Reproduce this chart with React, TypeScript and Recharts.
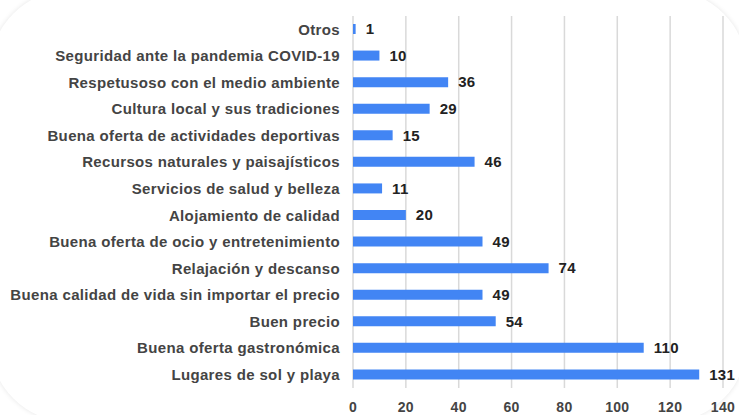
import React from "react";
import { BarChart, Bar, XAxis, YAxis, CartesianGrid, LabelList } from "recharts";

const categories = [
  "Otros",
  "Seguridad ante la pandemia COVID-19",
  "Respetusoso con el medio ambiente",
  "Cultura local y sus tradiciones",
  "Buena oferta de actividades deportivas",
  "Recursos naturales y paisajísticos",
  "Servicios de salud y belleza",
  "Alojamiento de calidad",
  "Buena oferta de ocio y entretenimiento",
  "Relajación y descanso",
  "Buena calidad de vida sin importar el precio",
  "Buen precio",
  "Buena oferta gastronómica",
  "Lugares de sol y playa",
];
const values = [1, 10, 36, 29, 15, 46, 11, 20, 49, 74, 49, 54, 110, 131];
const xTicks = [0, 20, 40, 60, 80, 100, 120, 140];

const data = categories.map((name, i) => ({ name, value: values[i] }));

const FONT = '"Liberation Sans", Arial, sans-serif';

export default function App() {
  return (
    <div style={{ position: "fixed", left: 0, top: 0, width: 739, height: 415, background: "#fff", overflow: "hidden" }}>
      <div
        style={{
          position: "absolute",
          left: -10,
          top: -10,
          width: 757,
          height: 432,
          borderRadius: 80,
          background: "#fff",
          boxShadow: "0 0 5px rgba(0,0,0,0.10)",
        }}
      />
      <div style={{ position: "absolute", left: 0, top: 0 }}>
        <BarChart
          width={739}
          height={415}
          data={data}
          layout="vertical"
          margin={{ top: 16, right: 16, bottom: 0, left: 0 }}
          style={{ fontFamily: FONT }}
        >
          <CartesianGrid horizontal={false} stroke="#d9d9d9" strokeWidth={1.5} />
          <XAxis
            type="number"
            domain={[0, 140]}
            ticks={xTicks}
            axisLine={false}
            tickLine={false}
            tickSize={0}
            tickMargin={14}
            height={27}
            tick={{ fill: "#444", fontSize: 14, fontWeight: 700, fontFamily: FONT, letterSpacing: 0.3 }}
            interval={0}
          />
          <YAxis
            type="category"
            dataKey="name"
            width={353}
            axisLine={false}
            tickLine={false}
            tickSize={0}
            tickMargin={13}
            interval={0}
            tick={{ fill: "#444", fontSize: 15, fontWeight: 700, fontFamily: FONT, letterSpacing: 0.35 }}
          />
          <Bar dataKey="value" fill="#4285F4" barSize={10} isAnimationActive={false}>
            <LabelList
              dataKey="value"
              position="right"
              offset={10}
              style={{ fill: "#222", fontSize: 15, fontWeight: 700, fontFamily: FONT, letterSpacing: 0.3 }}
            />
          </Bar>
        </BarChart>
      </div>
    </div>
  );
}
